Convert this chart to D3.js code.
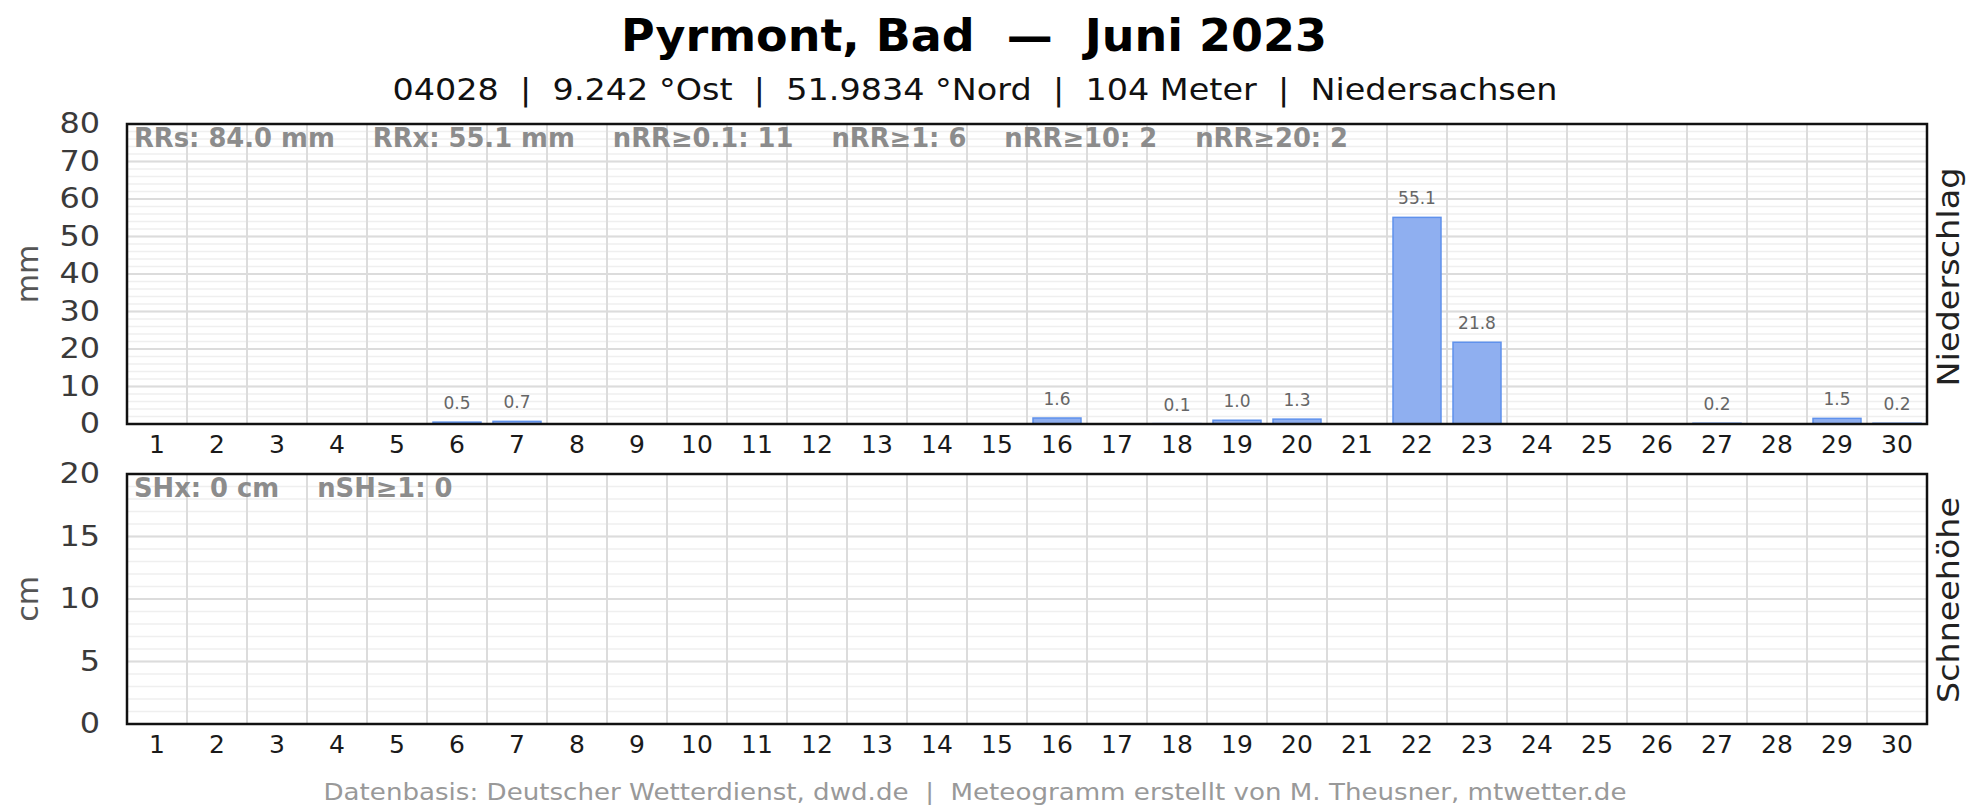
<!DOCTYPE html>
<html>
<head>
<meta charset="utf-8">
<title>Pyrmont, Bad — Juni 2023</title>
<script src="https://cdn.jsdelivr.net/npm/d3@7"></script>
<style>
    body { margin: 0; background: #fff; }
    text { font-family: "DejaVu Sans", sans-serif; }
</style>
</head>
<body>
<div id="chart"></div>
<script>
    // Tage im Juni
    const days = [1, 2, 3, 4, 5, 6, 7, 8, 9, 10, 11, 12, 13, 14, 15,
        16, 17, 18, 19, 20, 21, 22, 23, 24, 25, 26, 27, 28, 29, 30];
    // Niederschlag (mm)
    const precip = [0, 0, 0, 0, 0, 0.5, 0.7, 0, 0, 0, 0, 0, 0, 0, 0,
        1.6, 0, 0.1, 1.0, 1.3, 0, 55.1, 21.8, 0, 0, 0, 0.2, 0, 1.5, 0.2];
    // Schneehöhe (cm)
    const snow = [0, 0, 0, 0, 0, 0, 0, 0, 0, 0, 0, 0, 0, 0, 0,
        0, 0, 0, 0, 0, 0, 0, 0, 0, 0, 0, 0, 0, 0, 0];
    const precipTicks = [0, 10, 20, 30, 40, 50, 60, 70, 80];
    const snowTicks = [0, 5, 10, 15, 20];
    const precipStats = ["RRs: 84.0 mm", "RRx: 55.1 mm", "nRR≥0.1: 11", "nRR≥1: 6", "nRR≥10: 2", "nRR≥20: 2"];
    const snowStats = ["SHx: 0 cm", "nSH≥1: 0"];

    const title = "Pyrmont, Bad  —  Juni 2023";
    const subtitle = "04028  |  9.242 °Ost  |  51.9834 °Nord  |  104 Meter  |  Niedersachsen";
    const footer = "Datenbasis: Deutscher Wetterdienst, dwd.de  |  Meteogramm erstellt von M. Theusner, mtwetter.de";

    const width = 1969, height = 806;
    const left = 127, right = 1927;

    const svg = d3.select("#chart").append("svg")
        .attr("width", width)
        .attr("height", height);

    const x = d3.scaleBand()
        .domain(days)
        .range([left, right])
        .paddingInner(0.2)
        .paddingOuter(0.1);
    const step = x.step();

    svg.append("text")
        .attr("x", 974).attr("y", 51)
        .attr("text-anchor", "middle")
        .attr("font-size", 45).attr("font-weight", "bold")
        .attr("fill", "#000")
        .style("white-space", "pre")
        .attr("textLength", 706).attr("lengthAdjust", "spacingAndGlyphs")
        .text(title);

    svg.append("text")
        .attr("x", 975).attr("y", 100)
        .attr("text-anchor", "middle")
        .attr("font-size", 30)
        .attr("fill", "#111")
        .style("white-space", "pre")
        .attr("textLength", 1165).attr("lengthAdjust", "spacingAndGlyphs")
        .text(subtitle);

    svg.append("text")
        .attr("x", 975).attr("y", 800)
        .attr("text-anchor", "middle")
        .attr("font-size", 23)
        .attr("fill", "#999")
        .style("white-space", "pre")
        .attr("textLength", 1303).attr("lengthAdjust", "spacingAndGlyphs")
        .text(footer);

    function panel(cfg) {
        const y = d3.scaleLinear()
            .domain([0, cfg.max])
            .range([cfg.bottom, cfg.top]);
        const g = svg.append("g");

        // feine Hilfslinien
        g.selectAll(".minor")
            .data(y.ticks(cfg.max / cfg.minor))
            .join("line")
            .attr("x1", left).attr("x2", right)
            .attr("y1", d => y(d)).attr("y2", d => y(d))
            .attr("stroke", "#efefef").attr("stroke-width", 1.5);

        // Hauptlinien
        g.selectAll(".major")
            .data(cfg.ticks)
            .join("line")
            .attr("x1", left).attr("x2", right)
            .attr("y1", d => y(d)).attr("y2", d => y(d))
            .attr("stroke", "#dcdcdc").attr("stroke-width", 2);

        // Tagesgrenzen
        g.selectAll(".vgrid")
            .data(days.slice(1))
            .join("line")
            .attr("x1", d => x(d) - step * 0.1).attr("x2", d => x(d) - step * 0.1)
            .attr("y1", cfg.top).attr("y2", cfg.bottom)
            .attr("stroke", "#dcdcdc").attr("stroke-width", 2);

        // Balken
        const bars = days.map((d, i) => ({ day: d, v: cfg.values[i] })).filter(d => d.v > 0);
        g.selectAll(".bar")
            .data(bars)
            .join("rect")
            .attr("x", d => x(d.day))
            .attr("width", x.bandwidth())
            .attr("y", d => y(d.v))
            .attr("height", d => y(0) - y(d.v))
            .attr("fill", "#8faff0")
            .attr("stroke", "#5f91ec")
            .attr("stroke-width", 1.5);

        g.selectAll(".val")
            .data(bars)
            .join("text")
            .attr("x", d => x(d.day) + x.bandwidth() / 2)
            .attr("y", d => y(d.v) - 13)
            .attr("text-anchor", "middle")
            .attr("font-size", 17)
            .attr("fill", "#666")
            .text(d => d3.format(".1f")(d.v));

        // Kennzahlen
        let sx = left + 7;
        cfg.stats.forEach(s => {
            const t = g.append("text")
                .attr("x", sx).attr("y", cfg.top + 23)
                .attr("font-size", 25.8).attr("font-weight", "bold")
                .attr("fill", "#8c8c8c")
                .text(s);
            sx += t.node().getComputedTextLength() + 38;
        });

        // Achsen
        const yAxis = g.append("g")
            .attr("transform", `translate(${left},0)`)
            .call(d3.axisLeft(y).tickValues(cfg.ticks).tickSize(0).tickPadding(27));
        yAxis.select(".domain").remove();
        yAxis.selectAll("text")
            .attr("font-size", 28).attr("fill", "#3a3a3a")
            .style("font-family", "DejaVu Sans, sans-serif")
            .each(function () {
                const w = this.getComputedTextLength();
                d3.select(this).attr("textLength", w * 1.14).attr("lengthAdjust", "spacingAndGlyphs");
            });

        const xAxis = g.append("g")
            .attr("transform", `translate(0,${cfg.bottom})`)
            .call(d3.axisBottom(x).tickSize(0).tickPadding(11));
        xAxis.select(".domain").remove();
        xAxis.selectAll("text")
            .attr("font-size", 25).attr("fill", "#1a1a1a")
            .style("font-family", "DejaVu Sans, sans-serif");

        // Rahmen
        g.append("rect")
            .attr("x", left).attr("y", cfg.top)
            .attr("width", right - left).attr("height", cfg.bottom - cfg.top)
            .attr("fill", "none")
            .attr("stroke", "#111").attr("stroke-width", 2.5);

        const cy = (cfg.top + cfg.bottom) / 2;
        g.append("text")
            .attr("transform", `translate(27,${cy}) rotate(-90)`)
            .attr("text-anchor", "middle").attr("dy", "0.35em")
            .attr("font-size", 30).attr("fill", "#555")
            .text(cfg.unit);

        // rechter Titel: Grundlinie knapp vor dem Bildrand
        g.append("text")
            .attr("transform", `translate(1959,${cfg.labelY}) rotate(-90)`)
            .attr("text-anchor", "middle")
            .attr("font-size", 31).attr("fill", "#222")
            .attr("textLength", cfg.labelLen).attr("lengthAdjust", "spacingAndGlyphs")
            .text(cfg.label);
    }

    panel({ top: 124, bottom: 424, max: 80, minor: 2, ticks: precipTicks, values: precip,
        stats: precipStats, unit: "mm", label: "Niederschlag", labelY: 277, labelLen: 219 });
    panel({ top: 474, bottom: 724, max: 20, minor: 1, ticks: snowTicks, values: snow,
        stats: snowStats, unit: "cm", label: "Schneehöhe", labelY: 600, labelLen: 206 });
</script>
</body>
</html>
